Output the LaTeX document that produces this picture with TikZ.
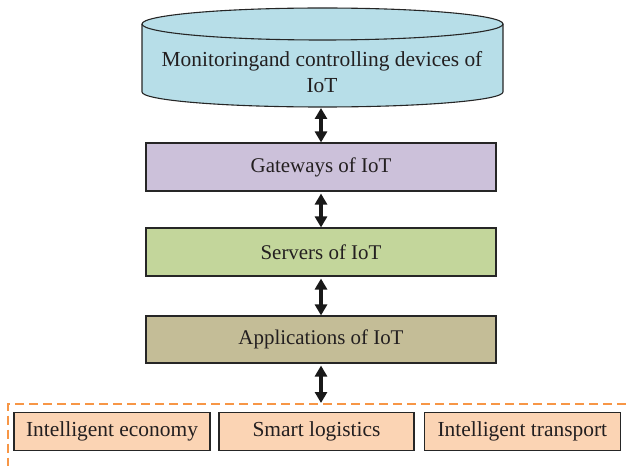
\documentclass[tikz,border=0pt]{standalone}
\usepackage{fontspec}
\setmainfont{Liberation Serif}
\usetikzlibrary{arrows.meta}
\definecolor{cylblue}{HTML}{B7DEE8}
\definecolor{gatelav}{HTML}{CCC1DA}
\definecolor{servgreen}{HTML}{C3D69B}
\definecolor{appkhaki}{HTML}{C4BD97}
\definecolor{peach}{HTML}{FBD4B4}
\definecolor{dashorange}{HTML}{F79646}
\definecolor{txt}{HTML}{231F20}
\tikzset{
  layer/.style={draw=black!85, line width=1.1bp, minimum width=350bp, minimum height=48bp,
    text=txt, font=\fontsize{21}{26}\selectfont, inner sep=0pt},
  appbox/.style={draw=black!85, line width=1.1bp, fill=peach, minimum height=38bp,
    text=txt, font=\fontsize{21.5}{26}\selectfont, inner sep=0pt},
  dbl/.style={line width=3.5bp, {Triangle[width=12bp,length=11bp]}-{Triangle[width=12bp,length=11bp]}, black!90},
  dashframe/.style={draw=dashorange, line width=1.5bp, dash pattern=on 9bp off 5bp}
}
\begin{document}
\begin{tikzpicture}[x=1bp,y=-1bp]
\useasboundingbox (0,0) rectangle (628,466);
\clip (0,0) rectangle (628,466);
% cylinder
\fill[cylblue] (142,24) -- (142,92) arc[start angle=180, end angle=0, x radius=180.5, y radius=15] -- (503,24) -- cycle;
\draw[line width=1.1bp, black!85] (142,24) -- (142,92) arc[start angle=180, end angle=0, x radius=180.5, y radius=15] -- (503,24);
\draw[line width=1.1bp, black!85, fill=cylblue] (322.5,24) ellipse[x radius=180.5, y radius=16];
\node[text=txt, font=\fontsize{21.5}{26}\selectfont, align=center, inner sep=0pt] (cyl) at (322,72) {Monitoringand controlling devices of\\IoT};
\coordinate (cylb) at (321,108);
% layers
\node[layer, fill=gatelav] (gate) at (321,167) {Gateways of IoT};
\node[layer, fill=servgreen] (serv) at (321,252) {Servers of IoT};
\node[layer, fill=appkhaki, minimum height=47bp] (app) at (321,339.5) {Applications of IoT};
% frame
\node[dashframe, anchor=north west, minimum width=640bp, minimum height=80bp, inner sep=0pt] (frame) at (7,403) {};
% application boxes
\node[appbox, minimum width=196bp] (econ) at (112,431.5) {Intelligent economy};
\node[appbox, minimum width=195bp] (logi) at (316.5,431.5) {Smart logistics};
\node[appbox, minimum width=196bp] (trans) at (522.3,431.5) {Intelligent transport};
% arrows
\draw[dbl] (cylb) -- (gate.north);
\draw[dbl] ([yshift=-2bp]gate.south) -- (serv.north);
\draw[dbl] ([yshift=-2bp]serv.south) -- (app.north);
\draw[dbl] ([yshift=-2bp]app.south) -- (app.south |- frame.north);
\end{tikzpicture}
\end{document}
